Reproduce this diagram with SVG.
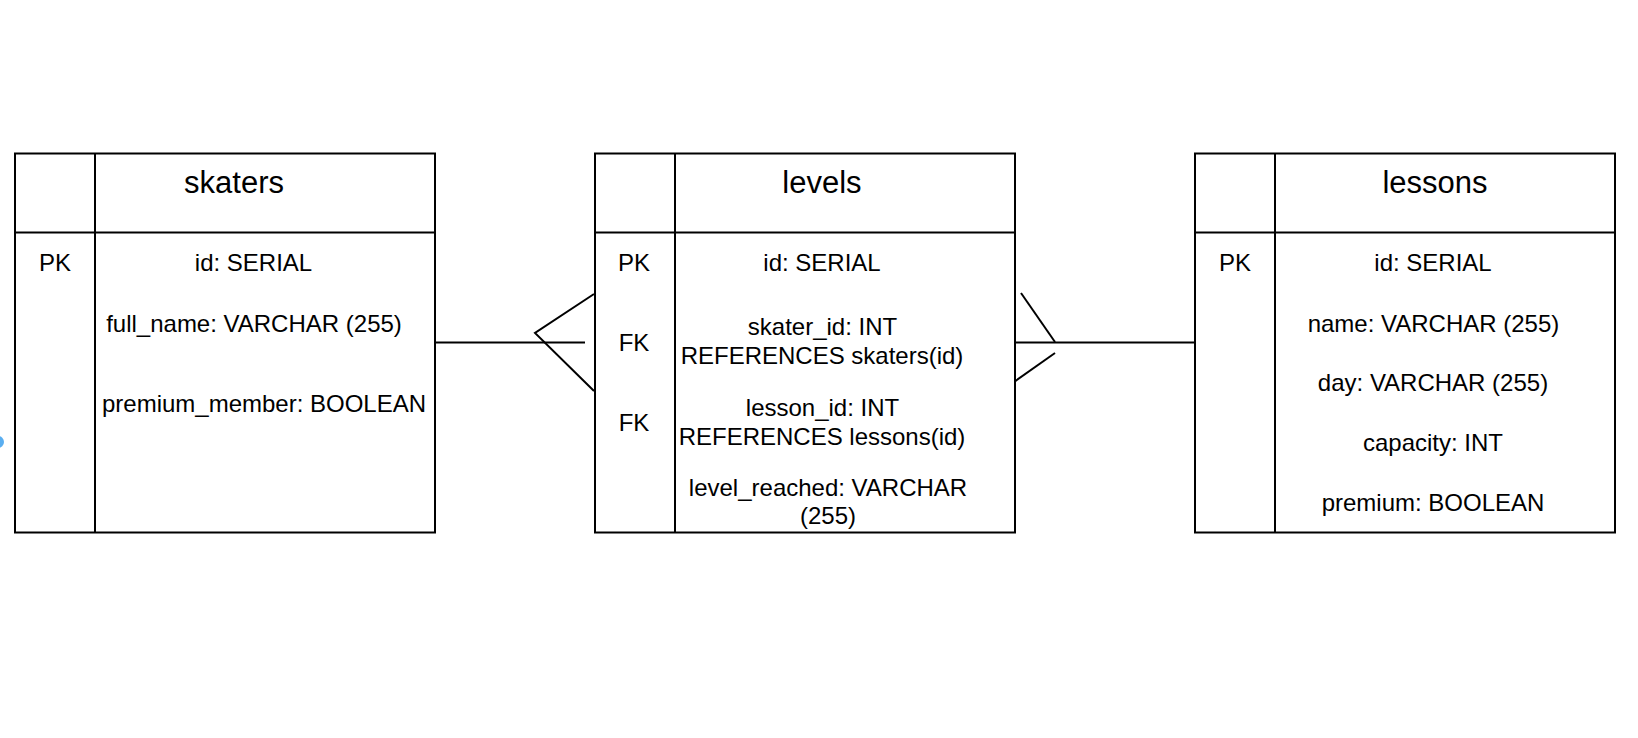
<svg xmlns="http://www.w3.org/2000/svg" width="1638" height="738" viewBox="0 0 1638 738">
<style>
.box{fill:#ffffff;stroke:#000000;stroke-width:2}
.ln{stroke:#000000;stroke-width:2;fill:none}
.t{font-family:"Liberation Sans",Arial,Helvetica,sans-serif;font-size:24px;fill:#000000;text-anchor:middle}
.h{font-family:"Liberation Sans",Arial,Helvetica,sans-serif;font-size:31px;fill:#000000;text-anchor:middle}
</style>
<rect width="1638" height="738" fill="#ffffff"/>
<circle cx="-2" cy="442" r="6" fill="#5aaef0"/>
<g id="connectors">
<line class="ln" x1="435" y1="342.5" x2="585" y2="342.5"/>
<polyline class="ln" points="594,294 535,333 594,391"/>
<line class="ln" x1="1015" y1="342.5" x2="1195" y2="342.5"/>
<line class="ln" x1="1021" y1="293" x2="1055" y2="342"/>
<line class="ln" x1="1055" y1="353" x2="1014" y2="382"/>
</g>
<g id="skaters">
<rect class="box" x="15" y="153.5" width="420" height="379"/>
<line class="ln" x1="15" y1="232.5" x2="435" y2="232.5"/>
<line class="ln" x1="95" y1="153.5" x2="95" y2="532.5"/>
<text class="h" x="234" y="193">skaters</text>
<text class="t" x="55" y="271">PK</text>
<text class="t" x="253.5" y="271">id: SERIAL</text>
<text class="t" x="254" y="332">full_name: VARCHAR (255)</text>
<text class="t" x="264" y="411.5">premium_member: BOOLEAN</text>
</g>
<g id="levels">
<rect class="box" x="595" y="153.5" width="420" height="379"/>
<line class="ln" x1="595" y1="232.5" x2="1015" y2="232.5"/>
<line class="ln" x1="675" y1="153.5" x2="675" y2="532.5"/>
<text class="h" x="822" y="193">levels</text>
<text class="t" x="634" y="271">PK</text>
<text class="t" x="822" y="271">id: SERIAL</text>
<text class="t" x="634" y="351">FK</text>
<text class="t" x="822.5" y="335">skater_id: INT</text>
<text class="t" x="822" y="364">REFERENCES skaters(id)</text>
<text class="t" x="634" y="431">FK</text>
<text class="t" x="822.5" y="416">lesson_id: INT</text>
<text class="t" x="822" y="444.5">REFERENCES lessons(id)</text>
<text class="t" x="828" y="496">level_reached: VARCHAR</text>
<text class="t" x="828" y="524">(255)</text>
</g>
<g id="lessons">
<rect class="box" x="1195" y="153.5" width="420" height="379"/>
<line class="ln" x1="1195" y1="232.5" x2="1615" y2="232.5"/>
<line class="ln" x1="1275" y1="153.5" x2="1275" y2="532.5"/>
<text class="h" x="1435" y="193">lessons</text>
<text class="t" x="1235" y="271">PK</text>
<text class="t" x="1433" y="271">id: SERIAL</text>
<text class="t" x="1433.5" y="332">name: VARCHAR (255)</text>
<text class="t" x="1433" y="390.5">day: VARCHAR (255)</text>
<text class="t" x="1433" y="450.5">capacity: INT</text>
<text class="t" x="1433" y="510.5">premium: BOOLEAN</text>
</g>
</svg>
